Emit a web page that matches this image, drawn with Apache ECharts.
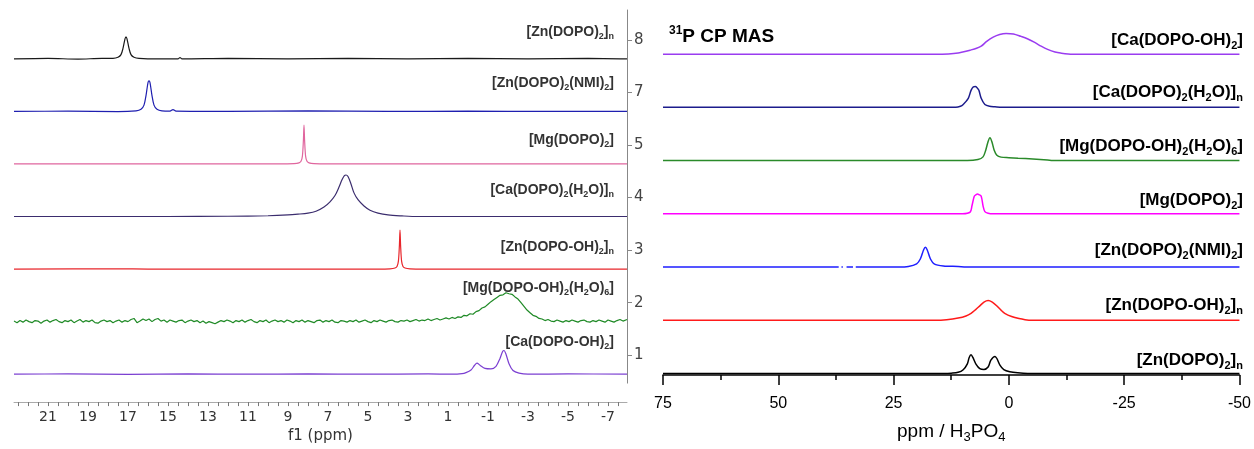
<!DOCTYPE html>
<html>
<head>
<meta charset="utf-8">
<script src="https://cdn.jsdelivr.net/npm/echarts@6.0.0/dist/echarts.min.js"></script>
<style>
  html, body { margin: 0; padding: 0; background: #fff; }
  #chart { width: 1254px; height: 449px; }
</style>
</head>
<body>
<div id="chart"></div>
<script>
// ---- left: solution 31P spectra, [ppm, intensity] (1 = one stack step) ----
const solNames = ['[Ca(DOPO-OH)_2]', '[Mg(DOPO-OH)_2(H_2O)_6]', '[Zn(DOPO-OH)_2]_n', '[Ca(DOPO)_2(H_2O)]_n', '[Mg(DOPO)_2]', '[Zn(DOPO)_2(NMI)_2]', '[Zn(DOPO)_2]_n'];
const solNumbers = ['1', '2', '3', '4', '5', '7', '8'];
const solColors = ['#7b3fd1', '#1f8a26', '#e8262b', '#3b2d6e', '#e0669e', '#1f1fb0', '#1a1a1a'];
const solTickLabels = [21, 19, 17, 15, 13, 11, 9, 7, 5, 3, 1, -1, -3, -5, -7];

const sol1 = [[22.7, 0], [20, 0.005], [17, -0.005], [14, 0.005], [11, 0], [8, 0.005], [5, 0], [2, 0.005], [0.8, 0], [0.3, 0.01], [0.1, 0.03], [-0.15, 0.08], [-0.33, 0.17], [-0.45, 0.21], [-0.6, 0.17], [-0.85, 0.11], [-1.15, 0.1], [-1.4, 0.15], [-1.6, 0.3], [-1.73, 0.43], [-1.8, 0.45], [-1.9, 0.38], [-2.05, 0.2], [-2.25, 0.07], [-2.55, 0.02], [-3, 0], [-5, 0.005], [-7.95, 0]];
const sol2 = [[22.7, 0.01], [22.55, -0.02], [22.4, 0.02], [22.25, -0.01], [22.1, 0.03], [21.95, 0], [21.8, -0.02], [21.65, 0.02], [21.5, 0.01], [21.35, -0.03], [21.2, 0.01], [21.05, 0.03], [20.9, -0.01], [20.75, 0.02], [20.6, 0.04], [20.45, 0], [20.3, -0.02], [20.15, 0.02], [20.0, 0], [19.85, 0.03], [19.7, -0.02], [19.55, 0.01], [19.4, 0.04], [19.25, -0.01], [19.1, 0.02], [18.95, 0], [18.8, 0.03], [18.65, -0.02], [18.5, -0.03], [18.35, 0.01], [18.2, 0.03], [18.05, 0], [17.9, 0.02], [17.75, -0.02], [17.6, 0.01], [17.45, 0.03], [17.3, -0.01], [17.15, 0.02], [17.0, 0], [16.85, 0.04], [16.7, 0.06], [16.55, -0.02], [16.4, 0.01], [16.25, 0.05], [16.1, 0.02], [15.95, 0.05], [15.8, 0], [15.65, 0.04], [15.5, 0.06], [15.35, 0.01], [15.2, 0.03], [15.05, -0.01], [14.9, 0.03], [14.75, 0.01], [14.6, -0.01], [14.45, 0.02], [14.3, 0.03], [14.15, -0.02], [14.0, 0.01], [13.85, 0.03], [13.7, 0], [13.55, 0.02], [13.4, -0.02], [13.25, 0.01], [13.1, -0.03], [12.95, 0], [12.8, -0.02], [12.65, -0.04], [12.5, -0.01], [12.35, 0.02], [12.2, 0], [12.05, 0.03], [11.9, 0.01], [11.75, -0.02], [11.6, 0.02], [11.45, 0], [11.3, 0.03], [11.15, -0.01], [11.0, 0.02], [10.85, 0.04], [10.7, 0], [10.55, -0.02], [10.4, 0.02], [10.25, 0], [10.1, 0.03], [9.95, -0.02], [9.8, 0.01], [9.65, 0.03], [9.5, 0], [9.35, 0.02], [9.2, -0.01], [9.05, 0.03], [8.9, 0.01], [8.75, -0.02], [8.6, 0.02], [8.45, 0], [8.3, 0.03], [8.15, -0.01], [8.0, 0.02], [7.85, 0], [7.7, -0.02], [7.55, 0.02], [7.4, 0.03], [7.25, -0.01], [7.1, 0.02], [6.95, 0], [6.8, 0.03], [6.65, -0.01], [6.5, -0.02], [6.35, 0.02], [6.2, 0.01], [6.05, -0.01], [5.9, 0.02], [5.75, 0], [5.6, 0.03], [5.45, -0.01], [5.3, 0.01], [5.15, 0.03], [5.0, 0], [4.85, -0.02], [4.7, 0.02], [4.55, 0], [4.4, 0.03], [4.25, 0.01], [4.1, -0.01], [3.95, 0.02], [3.8, 0.03], [3.65, 0], [3.5, -0.01], [3.35, 0.02], [3.2, 0.01], [3.05, 0.03], [2.9, 0], [2.75, 0.02], [2.6, 0.04], [2.45, 0.01], [2.3, 0.03], [2.15, 0.02], [2.0, 0.05], [1.85, 0.02], [1.7, 0.04], [1.55, 0.06], [1.4, 0.03], [1.25, 0.05], [1.1, 0.07], [0.95, 0.05], [0.8, 0.08], [0.65, 0.06], [0.5, 0.09], [0.35, 0.08], [0.2, 0.12], [0.05, 0.11], [-0.1, 0.15], [-0.25, 0.14], [-0.4, 0.19], [-0.55, 0.21], [-0.7, 0.26], [-0.85, 0.28], [-1.0, 0.33], [-1.15, 0.38], [-1.3, 0.42], [-1.45, 0.46], [-1.6, 0.5], [-1.75, 0.51], [-1.9, 0.55], [-2.05, 0.53], [-2.2, 0.52], [-2.35, 0.47], [-2.5, 0.43], [-2.65, 0.36], [-2.8, 0.29], [-2.95, 0.22], [-3.1, 0.17], [-3.25, 0.12], [-3.4, 0.1], [-3.55, 0.06], [-3.7, 0.05], [-3.85, 0.02], [-4.0, 0.04], [-4.15, 0.01], [-4.3, 0], [-4.45, 0.03], [-4.6, 0.01], [-4.75, -0.01], [-4.9, 0.02], [-5.05, 0], [-5.2, 0.03], [-5.35, 0.01], [-5.5, -0.01], [-5.65, 0.02], [-5.8, 0.03], [-5.95, 0], [-6.1, -0.01], [-6.25, 0.02], [-6.4, 0], [-6.55, 0.03], [-6.7, 0.01], [-6.85, -0.01], [-7.0, 0.03], [-7.15, 0.01], [-7.3, -0.01], [-7.45, 0.02], [-7.6, 0.04], [-7.75, 0.01], [-7.95, 0.04]];
const sol3 = [[22.7, 0], [17.5, 0.005], [16, 0], [4.5, 0], [3.9, 0.005], [3.65, 0.02], [3.55, 0.05], [3.48, 0.15], [3.43, 0.45], [3.4, 0.74], [3.37, 0.45], [3.32, 0.15], [3.25, 0.05], [3.15, 0.02], [2.9, 0.005], [2.2, 0], [-7.95, 0]];
const sol4 = [[22.7, 0], [15, 0], [12, 0.005], [10, 0.015], [9, 0.03], [8.5, 0.045], [8, 0.065], [7.6, 0.1], [7.2, 0.18], [6.9, 0.28], [6.65, 0.4], [6.45, 0.56], [6.3, 0.7], [6.18, 0.78], [6.1, 0.79], [6.0, 0.76], [5.85, 0.62], [5.7, 0.45], [5.5, 0.32], [5.2, 0.2], [4.9, 0.12], [4.5, 0.065], [4.0, 0.03], [3.3, 0.012], [2.5, 0], [-7.95, 0]];
const sol5 = [[22.7, 0], [9.5, 0], [8.7, 0.005], [8.45, 0.02], [8.35, 0.05], [8.28, 0.15], [8.23, 0.45], [8.2, 0.74], [8.17, 0.45], [8.12, 0.15], [8.05, 0.05], [7.95, 0.02], [7.7, 0.005], [7.0, 0], [-7.95, 0]];
const sol7 = [[22.7, 0], [20, 0.005], [17.5, -0.005], [16.6, 0.01], [16.35, 0.04], [16.2, 0.12], [16.1, 0.3], [16.0, 0.55], [15.95, 0.58], [15.9, 0.55], [15.8, 0.3], [15.7, 0.12], [15.55, 0.04], [15.3, 0.01], [14.9, 0.005], [14.75, 0.035], [14.6, 0.005], [12, 0], [8, 0.01], [4, 0], [0, 0.005], [-4, 0], [-7.95, 0]];
const sol8 = [[22.7, 0], [21, 0.01], [19.5, -0.005], [18.3, 0.01], [17.75, 0.01], [17.5, 0.03], [17.35, 0.08], [17.25, 0.2], [17.15, 0.38], [17.1, 0.42], [17.05, 0.38], [16.95, 0.2], [16.85, 0.08], [16.7, 0.03], [16.45, 0.01], [15.5, 0], [14.5, 0], [14.4, 0.025], [14.3, 0], [12, 0.01], [9, 0], [6, 0.01], [3, 0], [0, 0.01], [-3, 0], [-6, 0.01], [-7.95, 0]];
const solTraces = [sol1, sol2, sol3, sol4, sol5, sol7, sol8];

// ---- right: 31P CP MAS, [ppm, intensity] ----
const masNames = ['[Zn(DOPO)_2]_n', '[Zn(DOPO-OH)_2]_n', '[Zn(DOPO)_2(NMI)_2]', '[Mg(DOPO)_2]', '[Mg(DOPO-OH)_2(H_2O)_6]', '[Ca(DOPO)_2(H_2O)]_n', '[Ca(DOPO-OH)_2]'];
const masColors = ['#000000', '#ff1a1a', '#1e1eff', '#ff00ff', '#2a8a2a', '#1c1c8c', '#9a3cf0'];

const masZn = [[75, 0], [14, 0], [12.5, 0.005], [11, 0.02], [9.9, 0.07], [9.0, 0.18], [8.6, 0.3], [8.2, 0.35], [7.8, 0.3], [7.1, 0.17], [6.3, 0.09], [5.4, 0.075], [4.5, 0.12], [3.9, 0.25], [3.0, 0.32], [2.6, 0.28], [1.9, 0.15], [1.1, 0.07], [-0.2, 0.03], [-1.9, 0.01], [-4.1, 0], [-50, 0]];
const masZnOH = [[75, 0], [16, 0], [13.5, 0.01], [11, 0.04], [9.3, 0.08], [8.2, 0.13], [7.2, 0.2], [6.3, 0.27], [5.4, 0.34], [4.5, 0.37], [3.6, 0.34], [2.5, 0.26], [1.6, 0.18], [0.9, 0.13], [-0.6, 0.07], [-2.2, 0.03], [-3.5, 0.01], [-5, 0], [-50, 0]];
const masZnNMI = [[75, 0], [37.6, 0], [36.9, 0], [36.7, '-'], [36.3, 0], [36.0, 0], [35.7, '-'], [35.2, 0], [33.8, 0], [33.5, '-'], [33.2, 0], [24, 0], [21.8, 0.01], [20.0, 0.06], [19.2, 0.15], [18.5, 0.32], [18.1, 0.37], [17.7, 0.32], [17.0, 0.15], [16.2, 0.06], [14.2, 0.02], [11, 0.01], [9.3, 0], [-50, 0]];
const masMg = [[75, 0], [10, 0], [8.4, 0.03], [8.0, 0.15], [7.5, 0.33], [7.1, 0.36], [6.8, 0.37], [6.5, 0.36], [6.0, 0.33], [5.6, 0.15], [5.2, 0.04], [4.5, 0.01], [3.4, 0], [-50, 0]];
const masMgOH = [[75, 0], [9, 0], [6.7, 0.02], [5.6, 0.07], [5.0, 0.2], [4.5, 0.36], [4.1, 0.43], [3.7, 0.36], [3.2, 0.2], [2.6, 0.1], [1.7, 0.065], [0, 0.055], [-2, 0.045], [-5.2, 0.03], [-8.4, 0.01], [-9.5, 0], [-50, 0]];
const masCa = [[75, 0], [11.5, 0], [10.5, 0.02], [9.9, 0.055], [8.8, 0.17], [8.2, 0.32], [7.7, 0.385], [7.3, 0.39], [6.9, 0.37], [6.5, 0.32], [6.0, 0.17], [5.2, 0.055], [4.2, 0.02], [3.0, 0.01], [1.5, 0], [-50, 0]];
const masCaOH = [[75, 0], [16, 0], [13.1, 0.005], [11, 0.02], [10, 0.04], [8.4, 0.075], [7, 0.11], [6.0, 0.15], [4.8, 0.24], [3.4, 0.32], [2, 0.37], [0.6, 0.39], [-1, 0.38], [-2.6, 0.335], [-4, 0.29], [-5.6, 0.22], [-7, 0.15], [-8.4, 0.09], [-10, 0.04], [-11.2, 0.02], [-13.8, 0], [-50, 0]];
const masTraces = [masZn, masZnOH, masZnNMI, masMg, masMgOH, masCa, masCaOH];

// label placement (pixels)
const solLabelY = [342, 288, 247, 190, 140, 83, 32];
const masLabelY = [360, 305, 250, 200, 146, 92, 40];
const solShift = -0.36; // baseline sits below its number tick

function toRich(s) {
    return s.split(/(_.)/).filter(p => p).map(p => p[0] === '_' ? '{s|' + p[1] + '}' : '{t|' + p + '}').join('');
}

const solMinor = [];
for (let v = 22.5; v >= -7.5; v -= 0.5) solMinor.push(v);

const series = [];
solTraces.forEach((tr, k) => {
    series.push({
        type: 'line', xAxisIndex: 0, yAxisIndex: 0,
        symbol: 'none', smooth: k === 1 ? false : 0.3,
        lineStyle: { color: solColors[k], width: 1.2 },
        data: tr.map(p => [p[0], p[1] === '-' ? '-' : k + solShift + p[1]])
    });
});
masTraces.forEach((tr, k) => {
    series.push({
        type: 'line', xAxisIndex: 1, yAxisIndex: 1,
        symbol: 'none', smooth: 0.3,
        lineStyle: { color: masColors[k], width: 1.5 },
        data: tr.map(p => [p[0], p[1] === '-' ? '-' : k + p[1]])
    });
});

const graphic = [];
solNames.forEach((n, k) => {
    graphic.push({
        type: 'text', x: 614, y: solLabelY[k],
        style: {
            text: toRich(n), align: 'right', verticalAlign: 'middle',
            rich: {
                t: { fontFamily: 'Liberation Sans', fontWeight: 'bold', fontSize: 14, lineHeight: 18, fill: '#333' },
                s: { fontFamily: 'Liberation Sans', fontWeight: 'bold', fontSize: 9, lineHeight: 9, verticalAlign: 'bottom', fill: '#333' }
            }
        }
    });
});
masNames.forEach((n, k) => {
    graphic.push({
        type: 'text', x: 1243, y: masLabelY[k],
        style: {
            text: toRich(n), align: 'right', verticalAlign: 'middle',
            rich: {
                t: { fontFamily: 'Liberation Sans', fontWeight: 'bold', fontSize: 17, lineHeight: 22, fill: '#000' },
                s: { fontFamily: 'Liberation Sans', fontWeight: 'bold', fontSize: 11, lineHeight: 11, verticalAlign: 'bottom', fill: '#000' }
            }
        }
    });
});
graphic.push({
    type: 'text', x: 669, y: 37,
    style: {
        text: '{u|31}{t|P CP MAS}', align: 'left', verticalAlign: 'middle',
        rich: {
            t: { fontFamily: 'Liberation Sans', fontWeight: 'bold', fontSize: 19, lineHeight: 24, fill: '#000' },
            u: { fontFamily: 'Liberation Sans', fontWeight: 'bold', fontSize: 12, lineHeight: 12, verticalAlign: 'top', fill: '#000' }
        }
    }
});

const chart = echarts.init(document.getElementById('chart'));
chart.setOption({
    animation: false,
    backgroundColor: '#fff',
    grid: [
        { left: 14, right: 627, top: 10, bottom: 63 },
        { left: 663, right: 12, top: 10, bottom: 71 }
    ],
    xAxis: [
        {
            gridIndex: 0, type: 'value', inverse: true, min: -7.95, max: 22.7, offset: 19,
            axisLine: { onZero: false, lineStyle: { color: '#aaa', width: 1 } },
            axisTick: { customValues: solMinor, length: 4, lineStyle: { color: '#777' } },
            axisLabel: { customValues: solTickLabels, margin: 8, fontFamily: 'DejaVu Sans', fontSize: 14, color: '#333' },
            splitLine: { show: false },
            name: 'f1 (ppm)', nameLocation: 'middle', nameGap: 26,
            nameTextStyle: { fontFamily: 'DejaVu Sans', fontSize: 15, color: '#333' }
        },
        {
            gridIndex: 1, type: 'value', inverse: true, min: -50, max: 75, interval: 25,
            axisLine: { onZero: false, lineStyle: { color: '#000', width: 1.5 } },
            axisTick: { length: 10, lineStyle: { color: '#000', width: 1.5 } },
            minorTick: { show: true, splitNumber: 2, length: 5, lineStyle: { color: '#000', width: 1.5 } },
            axisLabel: { margin: 21, fontFamily: 'Liberation Sans', fontSize: 16, color: '#000' },
            splitLine: { show: false },
            name: '{t|ppm / H}{s|3}{t|PO}{s|4}', nameLocation: 'middle', nameGap: 45,
            nameTextStyle: {
                rich: {
                    t: { fontFamily: 'Liberation Sans', fontSize: 19, lineHeight: 24, color: '#000' },
                    s: { fontFamily: 'Liberation Sans', fontSize: 13, lineHeight: 13, verticalAlign: 'bottom', color: '#000' }
                }
            }
        }
    ],
    yAxis: [
        {
            gridIndex: 0, type: 'value', position: 'right', min: -0.53, max: 6.57,
            axisLine: { show: true, onZero: false, lineStyle: { color: '#888' } },
            axisTick: { show: true, customValues: [0, 1, 2, 3, 4, 5, 6], length: 5, lineStyle: { color: '#888' } },
            axisLabel: {
                customValues: [0, 1, 2, 3, 4, 5, 6], margin: 7,
                formatter: v => solNumbers[Math.round(v)],
                fontFamily: 'DejaVu Sans', fontSize: 15, color: '#444'
            },
            splitLine: { show: false }
        },
        { gridIndex: 1, type: 'value', min: -0.03, max: 6.83, show: false, splitLine: { show: false } }
    ],
    series: series,
    graphic: graphic
});
</script>
</body>
</html>
